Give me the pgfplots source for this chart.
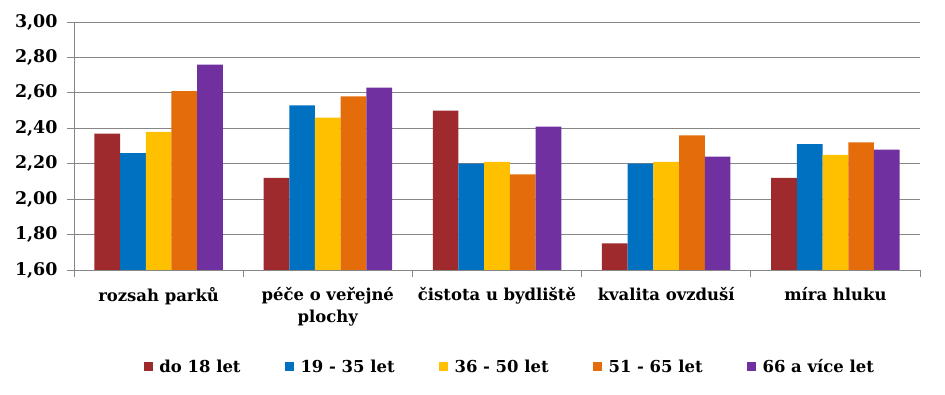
\documentclass[border=0pt]{standalone}
\usepackage{pgfplots}
\pgfplotsset{compat=1.18}
\usepackage{fontspec}
\setmainfont{DejaVu Serif}
\definecolor{c1}{RGB}{158,42,45}
\definecolor{c2}{RGB}{0,112,192}
\definecolor{c3}{RGB}{255,192,0}
\definecolor{c4}{RGB}{228,108,10}
\definecolor{c5}{RGB}{112,48,160}
\definecolor{gridc}{RGB}{134,134,134}
\begin{document}
\begin{tikzpicture}
\path (0,0) rectangle (945bp,395bp);
\begin{axis}[
  at={(74bp,125bp)}, anchor=south west,
  scale only axis, width=846bp, height=248bp,
  ybar=0pt, bar width=25.7bp,
  xmin=-0.5, xmax=4.5, ymin=1.6, ymax=3.0,
  ytick={1.6,1.8,...,3.01},
  xtick={-0.5,0.5,...,4.5},
  x tick label as interval,
  xticklabels={rozsah parků,{péče o veřejné\\plochy},čistota u bydliště,kvalita ovzduší,míra hluku},
  axis x line*=bottom, axis y line*=left,
  axis line style={gridc,-},
  ymajorgrids, grid style={gridc, line width=0.8pt},
  major tick style={gridc, line width=0.8pt},
  tick align=outside, major tick length=7bp,
  y tick label style={font=\fontsize{17.5}{18}\selectfont\bfseries, xshift=-6bp},
  yticklabel style={/pgf/number format/fixed, /pgf/number format/fixed zerofill, /pgf/number format/precision=2, /pgf/number format/use comma, /pgf/number format/assume math mode=true},
  x tick label style={font=\fontsize{16.5}{22}\selectfont\bfseries, align=center, yshift=-7bp},
  legend style={at={(0.515,-0.391)}, anchor=center, draw=none, legend columns=5,
    font=\fontsize{16.5}{18}\selectfont\bfseries,
    /tikz/every odd column/.append style={column sep=5bp},
    /tikz/every even column/.append style={column sep=42bp}},
  legend image code/.code={\fill[#1] (0bp,-4.5bp) rectangle (9bp,4.5bp);},
]
\addplot[fill=c1, draw=none] coordinates {(0,2.37) (1,2.12) (2,2.50) (3,1.75) (4,2.12)};
\addplot[fill=c2, draw=none] coordinates {(0,2.26) (1,2.53) (2,2.20) (3,2.20) (4,2.31)};
\addplot[fill=c3, draw=none] coordinates {(0,2.38) (1,2.46) (2,2.21) (3,2.21) (4,2.25)};
\addplot[fill=c4, draw=none] coordinates {(0,2.61) (1,2.58) (2,2.14) (3,2.36) (4,2.32)};
\addplot[fill=c5, draw=none] coordinates {(0,2.76) (1,2.63) (2,2.41) (3,2.24) (4,2.28)};
\legend{do 18 let,19 - 35 let,36 - 50 let,51 - 65 let,66 a více let}
\end{axis}
\end{tikzpicture}
\end{document}
